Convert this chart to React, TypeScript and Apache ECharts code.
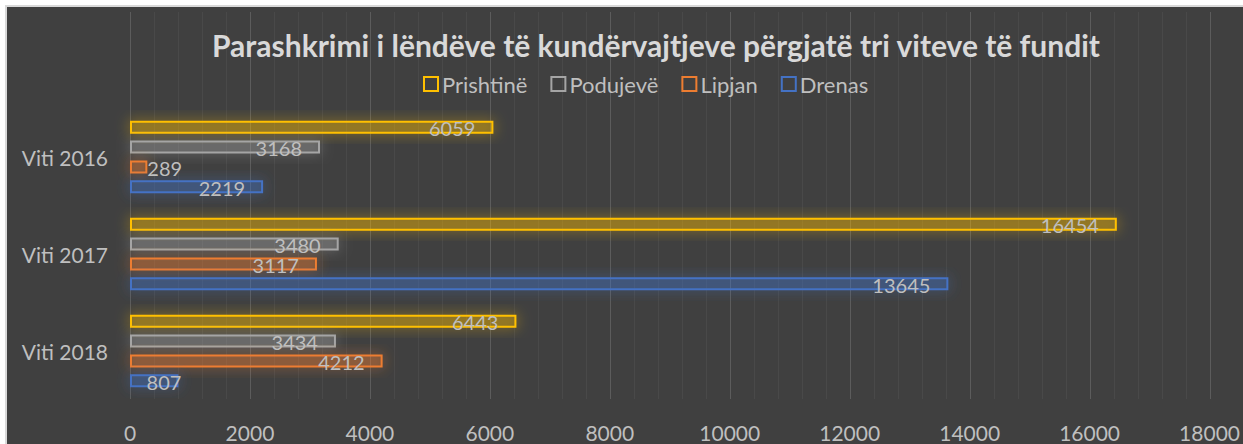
import React, { useEffect, useRef } from "react";
import * as echarts from "echarts";

const categories = ["Viti 2016", "Viti 2017", "Viti 2018"];
const seriesNames = ["Prishtinë", "Podujevë", "Lipjan", "Drenas"];
const prishtine = [6059, 16454, 6443];
const podujeve = [3168, 3480, 3434];
const lipjan = [289, 3117, 4212];
const drenas = [2219, 13645, 807];
const xTicks = [0, 2000, 4000, 6000, 8000, 10000, 12000, 14000, 16000, 18000];
const colors = ["#FFC000", "#A5A5A5", "#ED7D31", "#4472C4"];
const fills = ["rgba(255,192,0,0.27)", "rgba(165,165,165,0.25)", "rgba(237,125,49,0.28)", "rgba(68,114,196,0.28)"];

const FONT = "Lato, 'Noto Sans', sans-serif";
const TXT = "#bfbfbf";

export default function App() {
  const ref = useRef<HTMLDivElement>(null);
  useEffect(() => {
    document.body.style.margin = "0";
    const chart = echarts.init(ref.current!, undefined, { renderer: "svg" });
    const values = [prishtine, podujeve, lipjan, drenas];
    const xMax = xTicks[xTicks.length - 1];
    const gridLeft = 123;
    const gridWidth = 1080;
    chart.setOption({
      animation: false,
      backgroundColor: "#404040",
      textStyle: { fontFamily: FONT },
      title: {
        text: "Parashkrimi i lëndëve të kundërvajtjeve përgjatë tri viteve të fundit",
        left: 644,
        top: 18,
        textAlign: "center",
        textStyle: { color: "#d9d9d9", fontSize: 30, fontWeight: "bold", fontFamily: FONT },
      },
      legend: {
        left: 411,
        top: 61,
        itemWidth: 14,
        itemHeight: 14,
        itemGap: 23,
        icon: "rect",
        textStyle: { color: TXT, fontSize: 22, fontFamily: FONT, padding: [0, 0, 0, -1] },
        data: seriesNames.map((n, i) => ({
          name: n,
          itemStyle: { color: "rgba(0,0,0,0)", borderColor: colors[i], borderWidth: 2 },
        })),
      },
      grid: [
        { left: gridLeft, width: gridWidth, top: 5, height: 387 },
        { left: gridLeft, width: gridWidth, top: 101.5, height: 291 },
      ],
      xAxis: [
        {
          gridIndex: 0,
          type: "value",
          min: 0,
          max: xMax,
          interval: 2000,
          axisLine: { show: false },
          axisTick: { show: false },
          axisLabel: { show: false },
          splitLine: { show: true, lineStyle: { color: "#5c5c5c", width: 1 } },
          minorTick: { show: false, splitNumber: 5 },
          minorSplitLine: { show: true, lineStyle: { color: "#494949", width: 1 } },
        },
        {
          gridIndex: 1,
          type: "value",
          min: 0,
          max: xMax,
          interval: 2000,
          axisLine: { show: false },
          axisTick: { show: false },
          splitLine: { show: false },
          axisLabel: {
            color: TXT,
            fontSize: 21,
            fontFamily: FONT,
            margin: 22,
            formatter: (v: number) => String(v),
          },
        },
      ],
      yAxis: [
        { gridIndex: 0, type: "value", show: false },
        {
          gridIndex: 1,
          type: "category",
          data: categories,
          inverse: true,
          axisLine: { show: false },
          axisTick: { show: false },
          axisLabel: { color: TXT, fontSize: 21, fontFamily: FONT, margin: 22 },
        },
      ],
      series: seriesNames.map((n, i) => ({
        name: n,
        type: "bar",
        xAxisIndex: 1,
        yAxisIndex: 1,
        barWidth: 13,
        barGap: "52%",
        data: values[i].map((v) => {
          let label: any = undefined;
          if (v < 500) label = { position: "right", distance: 0 };
          else if (v < 1500) label = { position: "insideRight", distance: -3 };
          return { value: v, label };
        }),
        itemStyle: {
          color: fills[i],
          borderColor: colors[i],
          borderWidth: 2,
          shadowBlur: 14,
          shadowColor: colors[i] + "bb",
        },
        label: {
          show: true,
          position: "insideRight",
          distance: 18,
          color: TXT,
          fontSize: 20,
          lineHeight: 16,
          offset: [0, 1],
          fontFamily: FONT,
        },
      })),
    });
    return () => chart.dispose();
  }, []);
  return (
    <div style={{ width: 1243, height: 444, background: "#ffffff", position: "relative" }}>
      <div
        style={{
          position: "absolute",
          left: 5,
          top: 5,
          width: 1236,
          height: 437,
          borderLeft: "2px solid #d9d9d9",
          borderTop: "2px solid #d9d9d9",
        }}
      >
        <div ref={ref} style={{ width: 1236, height: 437 }} />
      </div>
    </div>
  );
}
